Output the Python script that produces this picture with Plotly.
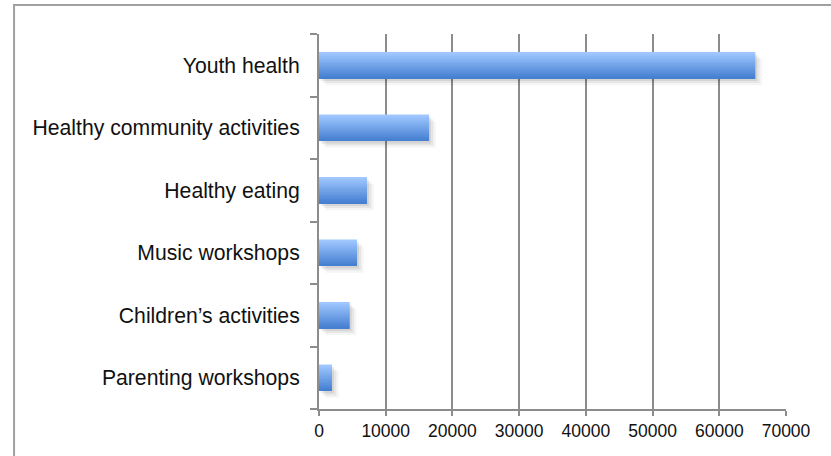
import plotly.graph_objects as go

# Programme reach by activity
categories = [
    "Youth health",
    "Healthy community activities",
    "Healthy eating",
    "Music workshops",
    "Children\u2019s activities",
    "Parenting workshops",
]
values = [65400, 16500, 7200, 5700, 4600, 1950]
x_ticks = [0, 10000, 20000, 30000, 40000, 50000, 60000, 70000]

BAR_W = 0.42
N_STRIPES = 14
TOP_RGB = (160, 199, 255)
BOT_RGB = (70, 128, 210)


def mix(a, b, t):
    return "rgb(%d,%d,%d)" % tuple(round(a[i] + (b[i] - a[i]) * t) for i in range(3))


fig = go.Figure()

# soft drop shadow beneath each bar
for alpha, dx, dy in [(0.04, 1000, 0.11), (0.06, 650, 0.075), (0.08, 300, 0.04)]:
    fig.add_trace(go.Bar(
        y=categories, x=values, orientation="h",
        base=[dx] * len(values),
        width=BAR_W, offset=-BAR_W / 2 - dy,
        marker=dict(color="rgba(0,0,0,%.2f)" % alpha, line=dict(width=0)),
        hoverinfo="skip", showlegend=False,
    ))

# vertical gradient built from thin horizontal stripes of the same bars
sw = BAR_W / N_STRIPES
for i in range(N_STRIPES):
    t = i / (N_STRIPES - 1)
    fig.add_trace(go.Bar(
        y=categories, x=values, orientation="h",
        width=sw * 1.05, offset=BAR_W / 2 - (i + 1) * sw,
        marker=dict(color=mix(TOP_RGB, BOT_RGB, t), line=dict(width=0)),
        hoverinfo="skip" if i else "x+y", showlegend=False,
    ))

grid_col = "#8c8c8c"
fig.update_layout(
    width=831, height=456,
    margin=dict(l=319, r=45, t=34, b=47),
    paper_bgcolor="white", plot_bgcolor="white",
    barmode="overlay",
    font=dict(family="Liberation Sans, Arial, sans-serif", size=18, color="#111111"),
    xaxis=dict(
        range=[0, 70000], tickvals=x_ticks, ticktext=[str(v) for v in x_ticks],
        showgrid=True, gridcolor=grid_col, gridwidth=2,
        showline=True, linecolor=grid_col, linewidth=2,
        ticks="outside", ticklen=5, tickwidth=2, tickcolor=grid_col,
        tickfont=dict(size=17.5), zeroline=False, fixedrange=True,
    ),
    yaxis=dict(
        categoryorder="array", categoryarray=categories[::-1],
        showline=True, linecolor=grid_col, linewidth=2,
        ticks="outside", ticklen=7, tickwidth=2, tickcolor=grid_col,
        tickson="boundaries", showgrid=False, ticklabelstandoff=13,
        tickfont=dict(size=21.2), fixedrange=True,
    ),
    shapes=[dict(
        type="rect", xref="paper", yref="paper",
        x0=-0.653, x1=1.2, y0=-0.2, y1=1.0773,
        line=dict(color="#a0a0a0", width=2), fillcolor="rgba(0,0,0,0)", layer="below",
    )],
)

fig.write_html("out.html")
